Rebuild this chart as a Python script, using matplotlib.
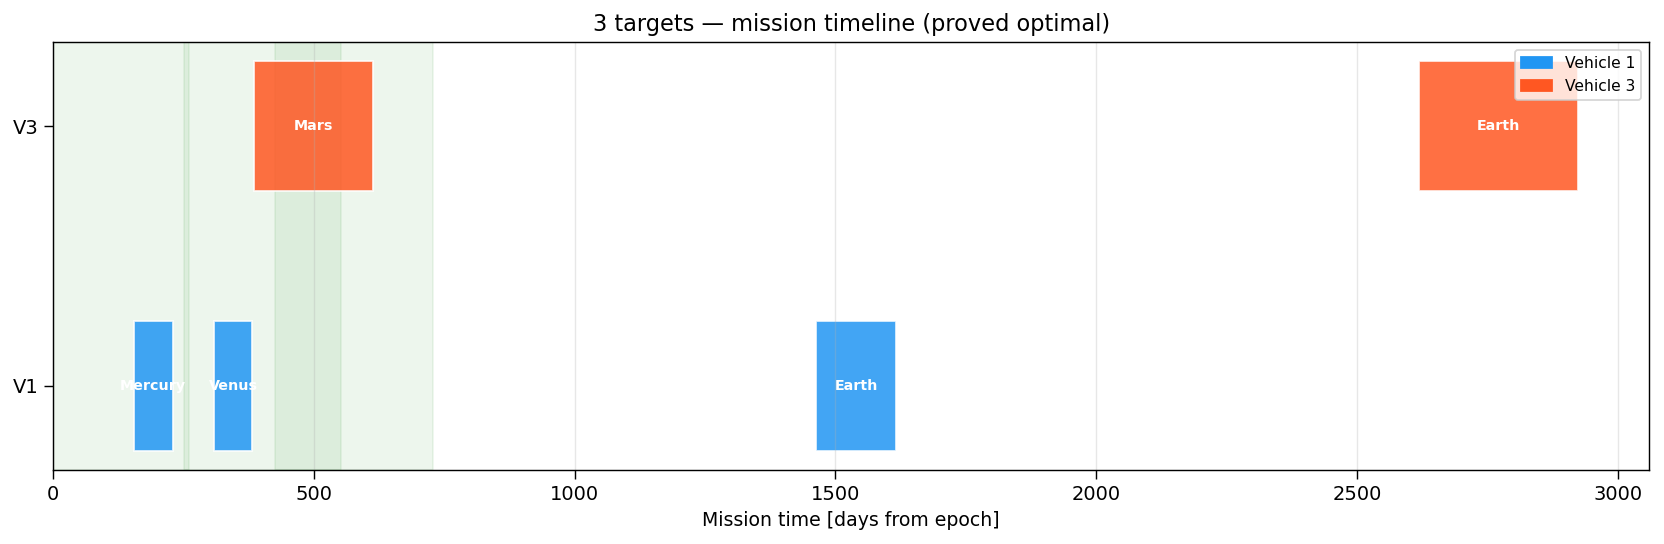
import numpy as np
import matplotlib.pyplot as plt
from matplotlib.patches import Patch

# ----------------------------------------
# DATA
# ----------------------------------------
vehicles = ["V1", "V3"]
vehicle_names = ["Vehicle 1", "Vehicle 3"]
vehicle_colors = ["#2196F3", "#FF5722"]

# visits per vehicle: target, start day, end day
v1_targets = ["Mercury", "Venus", "Earth"]
v1_start = [154, 308, 1463]
v1_end = [229, 382, 1616]

v3_targets = ["Mars", "Earth"]
v3_start = [384, 2619]
v3_end = [614, 2924]

# shaded launch / window spans
window_start = [0, 250, 426]
window_end = [728, 260, 552]

# ----------------------------------------
# FIGURE
# ----------------------------------------
fig, ax = plt.subplots(figsize=(13, 4.25), dpi=128)
fig.subplots_adjust(left=0.032, right=0.991, top=0.923, bottom=0.136)

for s, e in zip(window_start, window_end):
    ax.axvspan(s, e, color="green", alpha=0.07)

schedule = [
    (v1_targets, v1_start, v1_end),
    (v3_targets, v3_start, v3_end),
]

for row, (targets, starts, ends) in enumerate(schedule):
    starts = np.array(starts)
    ends = np.array(ends)
    ax.barh(row, ends - starts, left=starts, height=0.5,
            color=vehicle_colors[row], alpha=0.85,
            edgecolor="white", linewidth=1)
    for name, s, e in zip(targets, starts, ends):
        ax.text((s + e) / 2, row, name, ha="center", va="center",
                color="white", fontsize=8, fontweight="bold")

ax.set_yticks(range(len(vehicles)))
ax.set_yticklabels(vehicles)
ax.tick_params(labelsize=11, length=5)
ax.set_xlim(0, 3060)
ax.set_ylim(-0.325, 1.325)

ax.grid(axis="x", alpha=0.3)

ax.set_title("3 targets \u2014 mission timeline (proved optimal)", fontsize=12.7)
ax.set_xlabel("Mission time [days from epoch]", fontsize=10.6)

handles = [Patch(color=c, label=n) for c, n in zip(vehicle_colors, vehicle_names)]
ax.legend(handles=handles, loc="upper right", fontsize=8.7)

fig.savefig("out.png", dpi=128)
plt.close(fig)
